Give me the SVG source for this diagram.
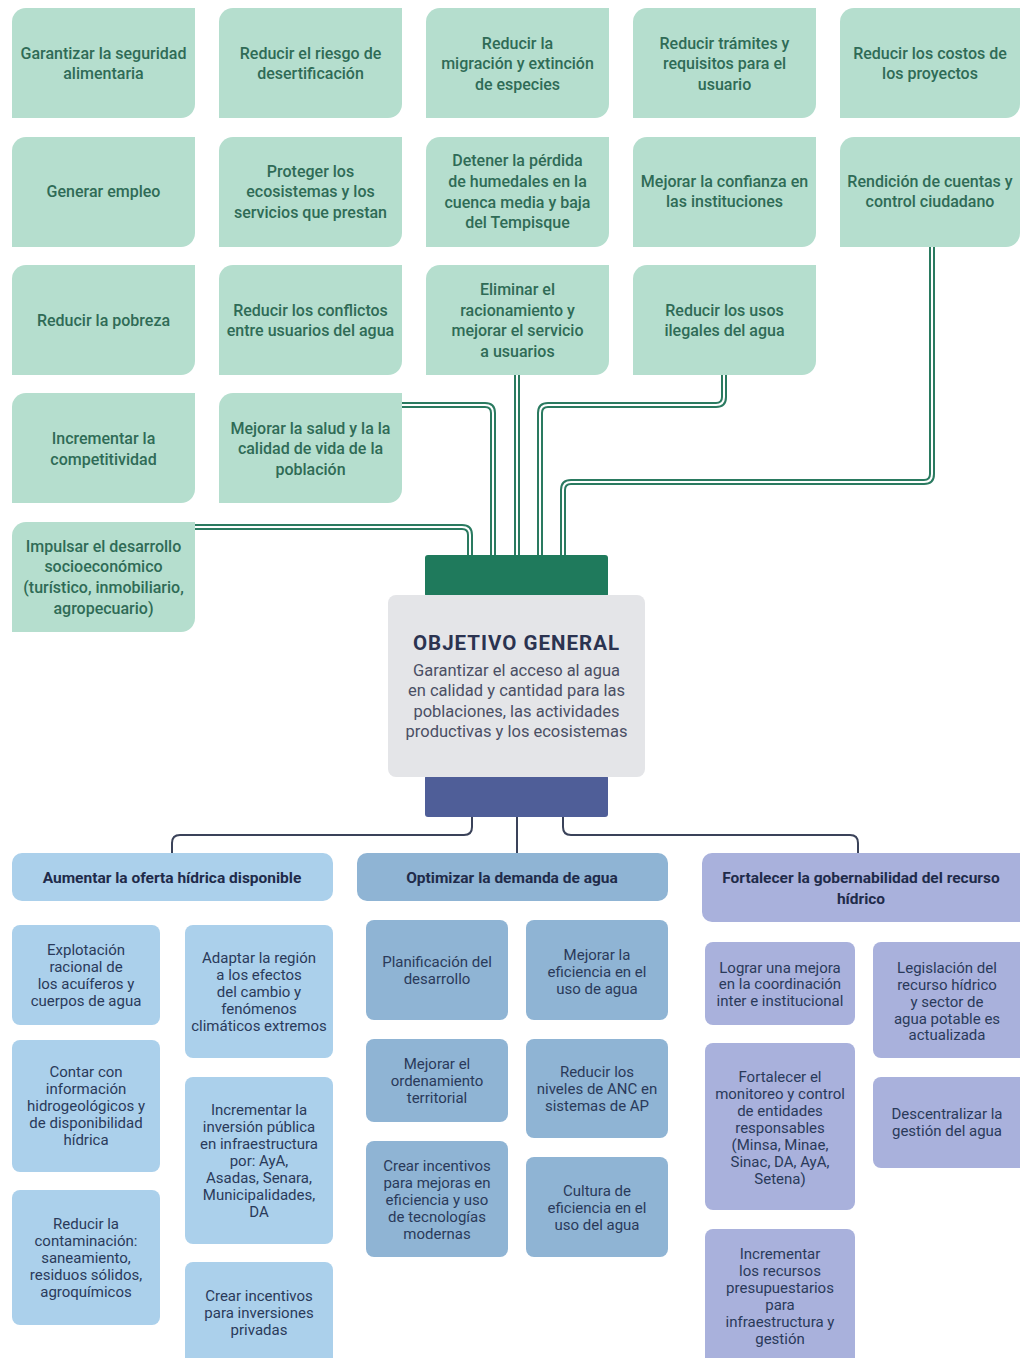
<svg xmlns="http://www.w3.org/2000/svg" width="1020" height="1358" viewBox="0 0 1020 1358">
<style>
.gbox{fill:#b5dece}
.gt{font-family:Roboto,"Liberation Sans",sans-serif;font-size:16px;font-weight:500;fill:#2f6b56;text-anchor:middle}
.cw{fill:none;stroke:#2a7a60;stroke-width:6}
.ci{fill:none;stroke:#ffffff;stroke-width:2}
.lc{fill:none;stroke:#3a4259;stroke-width:2}
.bt{font-family:Roboto,"Liberation Sans",sans-serif;font-size:15px;fill:#2a3a5a;text-anchor:middle}
.ht{font-family:Roboto,"Liberation Sans",sans-serif;font-size:15.5px;font-weight:bold;fill:#1f2b4a;text-anchor:middle}
.s1{fill:#abd0eb}
.s2{fill:#8fb4d4}
.s3{fill:#a9b1dc}
</style>

<g id="connectors">
  <g id="conn-top">
    <path class="cw" d="M195,527 H462 Q470,527 470,535 V556"/>
    <path class="ci" d="M195,527 H462 Q470,527 470,535 V556"/>
    <path class="cw" d="M402,405 H485 Q493,405 493,413 V556"/>
    <path class="ci" d="M402,405 H485 Q493,405 493,413 V556"/>
    <path class="cw" d="M517,375 V556"/>
    <path class="ci" d="M517,375 V556"/>
    <path class="cw" d="M724,375 V397 Q724,405 716,405 H548 Q540,405 540,413 V556"/>
    <path class="ci" d="M724,375 V397 Q724,405 716,405 H548 Q540,405 540,413 V556"/>
    <path class="cw" d="M932,247 V474 Q932,482 924,482 H571 Q563,482 563,490 V556"/>
    <path class="ci" d="M932,247 V474 Q932,482 924,482 H571 Q563,482 563,490 V556"/>
  </g>
  <g id="conn-bottom">
    <path class="lc" d="M472,816 V827 Q472,835 464,835 H180 Q172,835 172,843 V854"/>
    <path class="lc" d="M517,816 V854"/>
    <path class="lc" d="M563,816 V827 Q563,835 571,835 H850 Q858,835 858,843 V854"/>
  </g>
</g>

<!-- Row 1 -->
<g id="n-seguridad"><path class="gbox" d="M26,8 H195 V104 A14,14 0 0 1 181,118 H12 V22 A14,14 0 0 1 26,8 Z"/>
<text class="gt"><tspan x="103.5" y="59">Garantizar la seguridad</tspan><tspan x="103.5" y="79">alimentaria</tspan></text></g>
<g id="n-desertificacion"><path class="gbox" d="M233,8 H402 V104 A14,14 0 0 1 388,118 H219 V22 A14,14 0 0 1 233,8 Z"/>
<text class="gt"><tspan x="310.5" y="59">Reducir el riesgo de</tspan><tspan x="310.5" y="79">desertificación</tspan></text></g>
<g id="n-migracion"><path class="gbox" d="M440,8 H609 V104 A14,14 0 0 1 595,118 H426 V22 A14,14 0 0 1 440,8 Z"/>
<text class="gt"><tspan x="517.5" y="49">Reducir la</tspan><tspan x="517.5" y="69">migración y extinción</tspan><tspan x="517.5" y="90">de especies</tspan></text></g>
<g id="n-tramites"><path class="gbox" d="M647,8 H816 V104 A14,14 0 0 1 802,118 H633 V22 A14,14 0 0 1 647,8 Z"/>
<text class="gt"><tspan x="724.5" y="49">Reducir trámites y</tspan><tspan x="724.5" y="69">requisitos para el</tspan><tspan x="724.5" y="90">usuario</tspan></text></g>
<g id="n-costos"><path class="gbox" d="M854,8 H1020 V104 A14,14 0 0 1 1006,118 H840 V22 A14,14 0 0 1 854,8 Z"/>
<text class="gt"><tspan x="930" y="59">Reducir los costos de</tspan><tspan x="930" y="79">los proyectos</tspan></text></g>

<!-- Row 2 -->
<g id="n-empleo"><path class="gbox" d="M26,137 H195 V233 A14,14 0 0 1 181,247 H12 V151 A14,14 0 0 1 26,137 Z"/>
<text class="gt"><tspan x="103.5" y="197">Generar empleo</tspan></text></g>
<g id="n-ecosistemas"><path class="gbox" d="M233,137 H402 V233 A14,14 0 0 1 388,247 H219 V151 A14,14 0 0 1 233,137 Z"/>
<text class="gt"><tspan x="310.5" y="177">Proteger los</tspan><tspan x="310.5" y="197">ecosistemas y los</tspan><tspan x="310.5" y="218">servicios que prestan</tspan></text></g>
<g id="n-humedales"><path class="gbox" d="M440,137 H609 V233 A14,14 0 0 1 595,247 H426 V151 A14,14 0 0 1 440,137 Z"/>
<text class="gt"><tspan x="517.5" y="166">Detener la pérdida</tspan><tspan x="517.5" y="187">de humedales en la</tspan><tspan x="517.5" y="208">cuenca media y baja</tspan><tspan x="517.5" y="228">del Tempisque</tspan></text></g>
<g id="n-confianza"><path class="gbox" d="M647,137 H816 V233 A14,14 0 0 1 802,247 H633 V151 A14,14 0 0 1 647,137 Z"/>
<text class="gt"><tspan x="724.5" y="187">Mejorar la confianza en</tspan><tspan x="724.5" y="207">las instituciones</tspan></text></g>
<g id="n-rendicion"><path class="gbox" d="M854,137 H1020 V233 A14,14 0 0 1 1006,247 H840 V151 A14,14 0 0 1 854,137 Z"/>
<text class="gt"><tspan x="930" y="187">Rendición de cuentas y</tspan><tspan x="930" y="207">control ciudadano</tspan></text></g>

<!-- Row 3 -->
<g id="n-pobreza"><path class="gbox" d="M26,265 H195 V361 A14,14 0 0 1 181,375 H12 V279 A14,14 0 0 1 26,265 Z"/>
<text class="gt"><tspan x="103.5" y="326">Reducir la pobreza</tspan></text></g>
<g id="n-conflictos"><path class="gbox" d="M233,265 H402 V361 A14,14 0 0 1 388,375 H219 V279 A14,14 0 0 1 233,265 Z"/>
<text class="gt"><tspan x="310.5" y="316">Reducir los conflictos</tspan><tspan x="310.5" y="336">entre usuarios del agua</tspan></text></g>
<g id="n-racionamiento"><path class="gbox" d="M440,265 H609 V361 A14,14 0 0 1 595,375 H426 V279 A14,14 0 0 1 440,265 Z"/>
<text class="gt"><tspan x="517.5" y="295">Eliminar el</tspan><tspan x="517.5" y="316">racionamiento y</tspan><tspan x="517.5" y="336">mejorar el servicio</tspan><tspan x="517.5" y="357">a usuarios</tspan></text></g>
<g id="n-ilegales"><path class="gbox" d="M647,265 H816 V361 A14,14 0 0 1 802,375 H633 V279 A14,14 0 0 1 647,265 Z"/>
<text class="gt"><tspan x="724.5" y="316">Reducir los usos</tspan><tspan x="724.5" y="336">ilegales del agua</tspan></text></g>

<!-- Row 4 -->
<g id="n-competitividad"><path class="gbox" d="M26,393 H195 V489 A14,14 0 0 1 181,503 H12 V407 A14,14 0 0 1 26,393 Z"/>
<text class="gt"><tspan x="103.5" y="444">Incrementar la</tspan><tspan x="103.5" y="465">competitividad</tspan></text></g>
<g id="n-salud"><path class="gbox" d="M233,393 H402 V489 A14,14 0 0 1 388,503 H219 V407 A14,14 0 0 1 233,393 Z"/>
<text class="gt"><tspan x="310.5" y="434">Mejorar la salud y la la</tspan><tspan x="310.5" y="454">calidad de vida de la</tspan><tspan x="310.5" y="475">población</tspan></text></g>

<!-- Row 5 -->
<g id="n-desarrollo"><path class="gbox" d="M26,522 H195 V618 A14,14 0 0 1 181,632 H12 V536 A14,14 0 0 1 26,522 Z"/>
<text class="gt"><tspan x="103.5" y="552">Impulsar el desarrollo</tspan><tspan x="103.5" y="572">socioeconómico</tspan><tspan x="103.5" y="593">(turístico, inmobiliario,</tspan><tspan x="103.5" y="614">agropecuario)</tspan></text></g>

<!-- Objetivo general -->
<g id="n-objetivo">
  <rect x="425" y="555" width="183" height="42" rx="3" fill="#1f7a5c"/>
  <rect x="425" y="775" width="183" height="42" rx="3" fill="#4f5e98"/>
  <rect x="388" y="595" width="257" height="182" rx="8" fill="#e4e5e8"/>
  <text x="516.5" y="650" font-family="Roboto,'Liberation Sans',sans-serif" font-size="20.5" font-weight="bold" fill="#2b3350" text-anchor="middle" letter-spacing="1">OBJETIVO GENERAL</text>
  <text font-family="Roboto,'Liberation Sans',sans-serif" font-size="16.5" fill="#4a4f64" text-anchor="middle"><tspan x="516.5" y="676">Garantizar el acceso al agua</tspan><tspan x="516.5" y="696">en calidad y cantidad para las</tspan><tspan x="516.5" y="717">poblaciones, las actividades</tspan><tspan x="516.5" y="737">productivas y los ecosistemas</tspan></text>
</g>

<!-- Section 1 -->
<g id="h-oferta"><rect class="s1" x="12" y="853" width="321" height="48" rx="10"/>
<text class="ht" x="172" y="883">Aumentar la oferta hídrica disponible</text></g>
<g id="n-explotacion"><rect class="s1" x="12" y="925" width="148" height="100" rx="8"/>
<text class="bt"><tspan x="86" y="955">Explotación</tspan><tspan x="86" y="972">racional de</tspan><tspan x="86" y="989">los acuíferos y</tspan><tspan x="86" y="1006">cuerpos de agua</tspan></text></g>
<g id="n-informacion"><rect class="s1" x="12" y="1040" width="148" height="132" rx="8"/>
<text class="bt"><tspan x="86" y="1077">Contar con</tspan><tspan x="86" y="1094">información</tspan><tspan x="86" y="1111">hidrogeológicos y</tspan><tspan x="86" y="1128">de disponibilidad</tspan><tspan x="86" y="1145">hídrica</tspan></text></g>
<g id="n-contaminacion"><rect class="s1" x="12" y="1190" width="148" height="135" rx="8"/>
<text class="bt"><tspan x="86" y="1229">Reducir la</tspan><tspan x="86" y="1246">contaminación:</tspan><tspan x="86" y="1263">saneamiento,</tspan><tspan x="86" y="1280">residuos sólidos,</tspan><tspan x="86" y="1297">agroquímicos</tspan></text></g>
<g id="n-adaptar"><rect class="s1" x="185" y="925" width="148" height="133" rx="8"/>
<text class="bt"><tspan x="259" y="963">Adaptar la región</tspan><tspan x="259" y="980">a los efectos</tspan><tspan x="259" y="997">del cambio y</tspan><tspan x="259" y="1014">fenómenos</tspan><tspan x="259" y="1031">climáticos extremos</tspan></text></g>
<g id="n-inversion"><rect class="s1" x="185" y="1077" width="148" height="167" rx="8"/>
<text class="bt"><tspan x="259" y="1115">Incrementar la</tspan><tspan x="259" y="1132">inversión pública</tspan><tspan x="259" y="1149">en infraestructura</tspan><tspan x="259" y="1166">por: AyA,</tspan><tspan x="259" y="1183">Asadas, Senara,</tspan><tspan x="259" y="1200">Municipalidades,</tspan><tspan x="259" y="1217">DA</tspan></text></g>
<g id="n-privadas"><rect class="s1" x="185" y="1262" width="148" height="106" rx="8"/>
<text class="bt"><tspan x="259" y="1301">Crear incentivos</tspan><tspan x="259" y="1318">para inversiones</tspan><tspan x="259" y="1335">privadas</tspan></text></g>

<!-- Section 2 -->
<g id="h-demanda"><rect class="s2" x="357" y="853" width="311" height="48" rx="10"/>
<text class="ht" x="512" y="883">Optimizar la demanda de agua</text></g>
<g id="n-planificacion"><rect class="s2" x="366" y="920" width="142" height="100" rx="8"/>
<text class="bt"><tspan x="437" y="967">Planificación del</tspan><tspan x="437" y="984">desarrollo</tspan></text></g>
<g id="n-ordenamiento"><rect class="s2" x="366" y="1039" width="142" height="83" rx="8"/>
<text class="bt"><tspan x="437" y="1069">Mejorar el</tspan><tspan x="437" y="1086">ordenamiento</tspan><tspan x="437" y="1103">territorial</tspan></text></g>
<g id="n-tecnologias"><rect class="s2" x="366" y="1141" width="142" height="116" rx="8"/>
<text class="bt"><tspan x="437" y="1171">Crear incentivos</tspan><tspan x="437" y="1188">para mejoras en</tspan><tspan x="437" y="1205">eficiencia y uso</tspan><tspan x="437" y="1222">de tecnologías</tspan><tspan x="437" y="1239">modernas</tspan></text></g>
<g id="n-eficiencia"><rect class="s2" x="526" y="920" width="142" height="100" rx="8"/>
<text class="bt"><tspan x="597" y="960">Mejorar la</tspan><tspan x="597" y="977">eficiencia en el</tspan><tspan x="597" y="994">uso de agua</tspan></text></g>
<g id="n-anc"><rect class="s2" x="526" y="1039" width="142" height="99" rx="8"/>
<text class="bt"><tspan x="597" y="1077">Reducir los</tspan><tspan x="597" y="1094">niveles de ANC en</tspan><tspan x="597" y="1111">sistemas de AP</tspan></text></g>
<g id="n-cultura"><rect class="s2" x="526" y="1157" width="142" height="100" rx="8"/>
<text class="bt"><tspan x="597" y="1196">Cultura de</tspan><tspan x="597" y="1213">eficiencia en el</tspan><tspan x="597" y="1230">uso del agua</tspan></text></g>

<!-- Section 3 -->
<g id="h-gobernabilidad"><rect class="s3" x="702" y="853" width="330" height="69" rx="10"/>
<text class="ht"><tspan x="861" y="883">Fortalecer la gobernabilidad del recurso</tspan><tspan x="861" y="904">hídrico</tspan></text></g>
<g id="n-coordinacion"><rect class="s3" x="705" y="942" width="150" height="83" rx="8"/>
<text class="bt"><tspan x="780" y="973">Lograr una mejora</tspan><tspan x="780" y="989">en la coordinación</tspan><tspan x="780" y="1006">inter e institucional</tspan></text></g>
<g id="n-monitoreo"><rect class="s3" x="705" y="1043" width="150" height="167" rx="8"/>
<text class="bt"><tspan x="780" y="1082">Fortalecer el</tspan><tspan x="780" y="1099">monitoreo y control</tspan><tspan x="780" y="1116">de entidades</tspan><tspan x="780" y="1133">responsables</tspan><tspan x="780" y="1150">(Minsa, Minae,</tspan><tspan x="780" y="1167">Sinac, DA, AyA,</tspan><tspan x="780" y="1184">Setena)</tspan></text></g>
<g id="n-presupuesto"><rect class="s3" x="705" y="1229" width="150" height="139" rx="8"/>
<text class="bt"><tspan x="780" y="1259">Incrementar</tspan><tspan x="780" y="1276">los recursos</tspan><tspan x="780" y="1293">presupuestarios</tspan><tspan x="780" y="1310">para</tspan><tspan x="780" y="1327">infraestructura y</tspan><tspan x="780" y="1344">gestión</tspan></text></g>
<g id="n-legislacion"><rect class="s3" x="873" y="942" width="157" height="116" rx="8"/>
<text class="bt"><tspan x="947" y="973">Legislación del</tspan><tspan x="947" y="990">recurso hídrico</tspan><tspan x="947" y="1007">y sector de</tspan><tspan x="947" y="1024">agua potable es</tspan><tspan x="947" y="1040">actualizada</tspan></text></g>
<g id="n-descentralizar"><rect class="s3" x="873" y="1077" width="157" height="91" rx="8"/>
<text class="bt"><tspan x="947" y="1119">Descentralizar la</tspan><tspan x="947" y="1136">gestión del agua</tspan></text></g>
</svg>
